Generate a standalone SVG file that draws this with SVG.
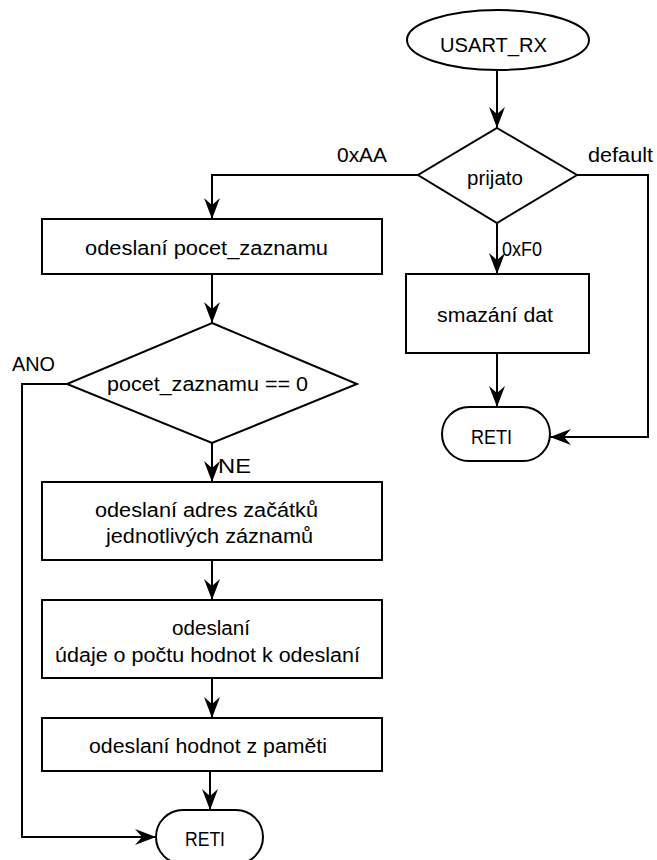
<svg xmlns="http://www.w3.org/2000/svg" width="657" height="860" viewBox="0 0 657 860">
<style>
.s{fill:#fff;stroke:#000;stroke-width:2}
.c{fill:none;stroke:#000;stroke-width:2}
text{font-family:"Liberation Sans",Arial,sans-serif;font-size:20px;fill:#000}
.m{text-anchor:middle}
</style>
<defs>
<marker id="a" markerUnits="userSpaceOnUse" markerWidth="24" markerHeight="20" viewBox="-22 -10 24 20" refX="0" refY="0" orient="auto" overflow="visible">
<path d="M0,0 L-21,-8 L-14,0 L-21,8 Z" fill="#000"/>
</marker>
</defs>
<rect width="657" height="860" fill="#fff"/>
<g id="connectors">
<path class="c" d="M497,70 V128" marker-end="url(#a)"/>
<path class="c" d="M418,175 H212 V219" marker-end="url(#a)"/>
<path class="c" d="M577,175 H648 V437 H550" marker-end="url(#a)"/>
<path class="c" d="M497,223 V274" marker-end="url(#a)"/>
<path class="c" d="M497,353 V407" marker-end="url(#a)"/>
<path class="c" d="M212,274 V323" marker-end="url(#a)"/>
<path class="c" d="M67,384 H22 V837 H156" marker-end="url(#a)"/>
<path class="c" d="M212,443 V482" marker-end="url(#a)"/>
<path class="c" d="M212,560 V600" marker-end="url(#a)"/>
<path class="c" d="M212,678 V718" marker-end="url(#a)"/>
<path class="c" d="M210,771 V810" marker-end="url(#a)"/>
<text x="362" y="162" class="m" textLength="50" lengthAdjust="spacingAndGlyphs">0xAA</text>
<text x="620.5" y="162" class="m" textLength="65" lengthAdjust="spacingAndGlyphs">default</text>
<text x="502" y="256" textLength="40" lengthAdjust="spacingAndGlyphs">0xF0</text>
<text x="33.5" y="371" class="m" textLength="43" lengthAdjust="spacingAndGlyphs">ANO</text>
<text x="218" y="473" textLength="33" lengthAdjust="spacingAndGlyphs">NE</text>
</g>
<g id="usart_rx">
<ellipse class="s" cx="498" cy="40" rx="91" ry="30"/>
<text x="493.5" y="52" class="m" textLength="107" lengthAdjust="spacingAndGlyphs">USART_RX</text>
</g>
<g id="prijato">
<polygon class="s" points="497,128 577,175 497,223 418,175"/>
<text x="495" y="185" class="m" textLength="56" lengthAdjust="spacingAndGlyphs">prijato</text>
</g>
<g id="odeslani_pocet">
<rect class="s" x="42" y="219" width="340" height="55"/>
<text x="206.5" y="255" class="m" textLength="243" lengthAdjust="spacingAndGlyphs">odeslaní pocet_zaznamu</text>
</g>
<g id="smazani">
<rect class="s" x="406" y="274" width="183" height="79"/>
<text x="495" y="322" class="m" textLength="116" lengthAdjust="spacingAndGlyphs">smazání dat</text>
</g>
<g id="reti_right">
<rect class="s" x="442" y="407" width="108" height="54" rx="27"/>
<text x="491.5" y="444" class="m" textLength="41" lengthAdjust="spacingAndGlyphs">RETI</text>
</g>
<g id="pocet_zero">
<polygon class="s" points="212,323 357,384 212,443 67,384"/>
<text x="207.5" y="391" class="m" textLength="201" lengthAdjust="spacingAndGlyphs">pocet_zaznamu == 0</text>
</g>
<g id="odeslani_adres">
<rect class="s" x="42" y="482" width="340" height="78"/>
<text x="206.5" y="517" class="m" textLength="223" lengthAdjust="spacingAndGlyphs">odeslaní adres začátků</text>
<text x="209.5" y="543" class="m" textLength="207" lengthAdjust="spacingAndGlyphs">jednotlivých záznamů</text>
</g>
<g id="odeslani_udaje">
<rect class="s" x="42" y="600" width="340" height="78"/>
<text x="211" y="635" class="m" textLength="78" lengthAdjust="spacingAndGlyphs">odeslaní</text>
<text x="207.5" y="662" class="m" textLength="305" lengthAdjust="spacingAndGlyphs">údaje o počtu hodnot k odeslaní</text>
</g>
<g id="odeslani_hodnot">
<rect class="s" x="42" y="718" width="340" height="53"/>
<text x="208" y="753" class="m" textLength="238" lengthAdjust="spacingAndGlyphs">odeslaní hodnot z paměti</text>
</g>
<g id="reti_bottom">
<rect class="s" x="156" y="810" width="107" height="54" rx="27"/>
<text x="205" y="846" class="m" textLength="40" lengthAdjust="spacingAndGlyphs">RETI</text>
</g>
</svg>
